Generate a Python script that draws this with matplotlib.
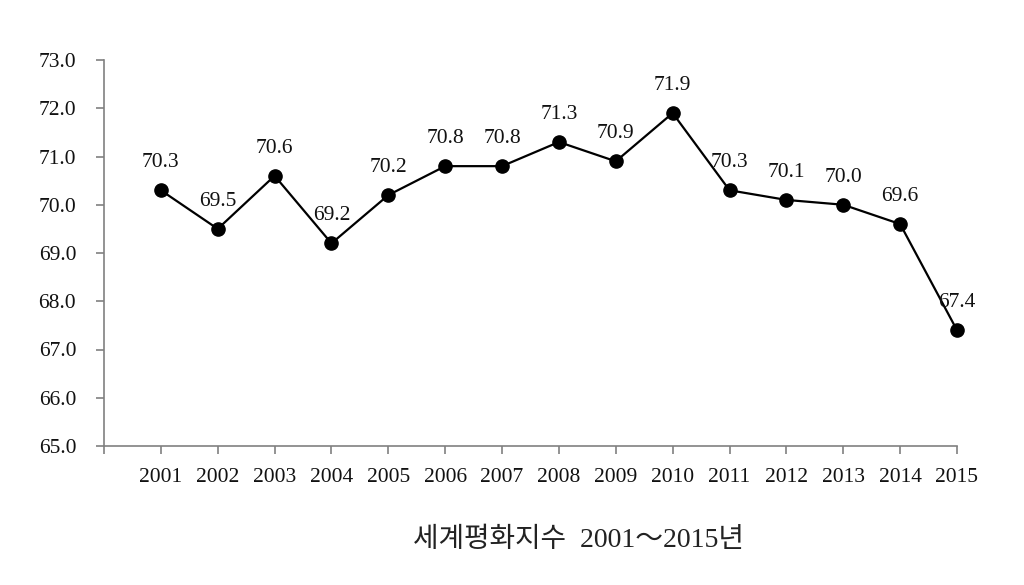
import matplotlib
matplotlib.use("Agg")
import matplotlib.pyplot as plt

years = [2001, 2002, 2003, 2004, 2005, 2006, 2007, 2008, 2009, 2010, 2011, 2012, 2013, 2014, 2015]
values = [70.3, 69.5, 70.6, 69.2, 70.2, 70.8, 70.8, 71.3, 70.9, 71.9, 70.3, 70.1, 70.0, 69.6, 67.4]
labels = ["70.3", "69.5", "70.6", "69.2", "70.2", "70.8", "70.8", "71.3", "70.9", "71.9",
          "70.3", "70.1", "70.0", "69.6", "67.4"]
yticks = [65.0, 66.0, 67.0, 68.0, 69.0, 70.0, 71.0, 72.0, 73.0]
title = "세계평화지수  2001～2015년"

plt.rcParams['font.family'] = ['Liberation Serif', 'Noto Sans CJK KR', 'DejaVu Sans']

fig = plt.figure(figsize=(10.24, 5.85), dpi=100)
ax = fig.add_axes([104/1024, 1-446/585, (957-104)/1024, (446-60)/585])

ax.plot(years, values, color='black', lw=1.6, marker='o', markersize=9.5,
        markerfacecolor='black', markeredgecolor='black', zorder=3, clip_on=False)
for x, y, t in zip(years, values, labels):
    ax.annotate(t, (x, y), xytext=(0, 13), textcoords='offset points',
                ha='center', va='bottom', fontsize=15.5, color='#111111')

ax.set_xlim(years[0] - 1, years[-1])
ax.set_ylim(yticks[0], yticks[-1])
ax.set_xticks([years[0] - 1] + years)
ax.set_xticklabels([""] + [str(y) for y in years])
ax.set_yticks(yticks)
ax.set_yticklabels([f"{v:.1f}" for v in yticks])

gray = '#808080'
for s in ['top', 'right']:
    ax.spines[s].set_visible(False)
for s in ['left', 'bottom']:
    ax.spines[s].set_color(gray)
    ax.spines[s].set_linewidth(1.2)
ax.tick_params(axis='both', colors=gray, length=6, width=1.2, labelcolor='#111111', labelsize=15.5)
ax.tick_params(axis='y', pad=14)
ax.tick_params(axis='x', pad=10)

fig.text(578/1024, 1-540/585, title, ha='center', va='center', fontsize=20, color='#222222')

fig.savefig("out.png", dpi=100)
